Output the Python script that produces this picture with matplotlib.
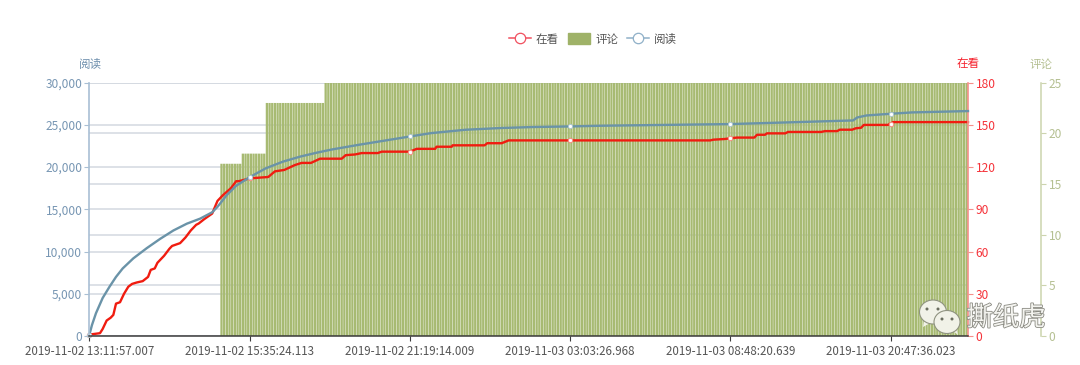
import numpy as np
import matplotlib
matplotlib.use("Agg")
import matplotlib.pyplot as plt
import matplotlib.patheffects as pe
from matplotlib.lines import Line2D
from matplotlib.patches import Patch, Ellipse, Polygon
from matplotlib.ticker import FuncFormatter

plt.rcParams['font.family'] = ['Noto Sans CJK SC', 'DejaVu Sans']

# category positions of labelled ticks
tick_idx = [0, 60, 120, 180, 240, 300]
tick_labels = ['2019-11-02 13:11:57.007', '2019-11-02 15:35:24.113', '2019-11-02 21:19:14.009',
               '2019-11-03 03:03:26.968', '2019-11-03 08:48:20.639', '2019-11-03 20:47:36.023']

# 在看
see_idx = [0, 2, 4, 5, 6.5, 8, 9, 10, 11.5, 13, 14.6, 16, 17.7, 20, 22, 23, 24.5, 25.5, 27, 28, 30, 31, 34, 36, 38,
           40, 41, 43, 44.5, 46, 48, 50, 53, 55, 56,
           60, 67, 69.5, 73, 77, 79.5, 83, 86.4, 94.5, 96, 99.5, 102, 108, 109.5, 119.4,
           120, 122.6, 129.5, 130, 135.7, 136, 148, 149, 154.4, 157, 180, 232.5, 233.6, 238,
           240, 242.5, 249, 250, 253, 253.7, 260.6, 261.6, 274, 275.5, 280, 281, 285.6, 287, 289, 290,
           297, 299, 300, 301, 329]
see_val = [1, 1.5, 2, 5, 11, 13, 15, 23, 24, 30, 35, 37, 38, 39, 42, 47, 48, 52, 55, 57, 62, 64, 66, 70, 75,
           79, 80, 83, 85, 87, 96, 100, 105, 110, 110,
           112, 113, 117, 118, 121.5, 123, 123, 126, 126, 128.5, 129, 130, 130, 131, 131,
           131, 133, 133, 134.5, 134.5, 135.5, 135.5, 137, 137, 139, 139, 139, 139.5, 140,
           140.5, 141, 141, 143, 143, 144, 144, 145, 145, 145.6, 145.6, 146.6, 146.6, 147.6, 148, 150,
           150, 150, 151, 152, 152]

# 评论 as runs of equal values (axis clips everything above 25)
comment_levels = [0, 17, 18, 23, 25]
comment_counts = [49, 8, 9, 22, 241]

# 阅读
read_idx = [0, 1, 2.5, 5, 7.5, 10, 12.5, 16.5, 21.5, 26.5, 31.5, 36.5, 41.5, 46, 48, 51.5, 55,
            60, 66, 72.5, 79, 85, 91, 101, 119.5, 120, 128, 141, 154, 166, 180, 191, 240, 266,
            286, 287.5, 291, 300, 308, 329]
read_val = [100, 1300, 2700, 4500, 5800, 7000, 8000, 9200, 10400, 11500, 12500, 13300, 13900, 14650, 15300, 16700, 17800,
            18800, 19850, 20650, 21250, 21700, 22100, 22650, 23600, 23630, 24030, 24430, 24630, 24750, 24820, 24900, 25100, 25340,
            25530, 25880, 26120, 26320, 26480, 26640]

comment_val = np.repeat(comment_levels, comment_counts)

RED = '#f01c10'
BLUE = '#6a93a8'
GREEN = '#a7ba72'

fig = plt.figure(figsize=(10.8, 3.65), dpi=100)
pos = [89.3 / 1080, 1 - 336 / 365, (968 - 89.3) / 1080, (336 - 82.7) / 365]

ax_read = fig.add_axes(pos)
ax_grid = ax_read.twinx()
ax_comment = ax_read.twinx()
ax_see = ax_read.twinx()

ax_grid.set_zorder(0)
ax_comment.set_zorder(1)
ax_read.set_zorder(3)
ax_see.set_zorder(2)
for a in (ax_read, ax_comment, ax_see):
    a.patch.set_visible(False)
ax_grid.set_facecolor('white')

for a in (ax_read, ax_grid, ax_comment, ax_see):
    a.set_xlim(0, 329)
    for s in a.spines.values():
        s.set_visible(False)

# grids: one from the 阅读 axis, one from the 评论 axis
ax_grid.set_ylim(0, 30000)
ax_grid.set_yticks(np.arange(0, 30001, 5000))
ax_grid.tick_params(right=False, labelright=False)
ax_grid.grid(True, axis='y', color='#d3d9e0', lw=1.1)

ax_comment.set_ylim(0, 25)
ax_comment.set_yticks(np.arange(0, 26, 5))
ax_comment.grid(True, axis='y', color='#d3d9e0', lw=1.1)
ax_comment.set_axisbelow(True)
bars = ax_comment.bar(np.arange(len(comment_val)) + 0.5, comment_val, width=0.86, color=GREEN, lw=0)
for b in bars:
    b.set_snap(False)
ax_comment.spines['right'].set_visible(True)
ax_comment.spines['right'].set_position(('outward', 52.5))  # 73 px at dpi 100
ax_comment.spines['right'].set_color('#ccd4ae')
ax_comment.spines['right'].set_linewidth(1.1)
ax_comment.tick_params(axis='y', colors='#ccd4ae', labelcolor='#b5c092', labelsize=8.6, length=3.5, pad=2)

see_marks = [see_idx.index(i) for i in tick_idx]
ax_see.set_ylim(0, 180)
ax_see.set_yticks(np.arange(0, 181, 30))
ax_see.plot(see_idx, see_val, color=RED, lw=1.7, clip_on=False, marker='o', ms=3.2, mfc='white',
            mec='#f58a80', mew=0.7, markevery=see_marks)
ax_see.spines['right'].set_visible(True)
ax_see.spines['right'].set_color('#f58f8a')
ax_see.spines['right'].set_linewidth(1.2)
ax_see.tick_params(axis='y', colors='#f58f8a', labelcolor='#f5333a', labelsize=8.6, length=3.5, pad=2)

read_marks = [read_idx.index(i) for i in tick_idx]
ax_read.set_ylim(0, 30000)
ax_read.set_yticks(np.arange(0, 30001, 5000))
ax_read.yaxis.set_major_formatter(FuncFormatter(lambda v, p: f'{int(v):,}'))
ax_read.plot(read_idx, read_val, color=BLUE, lw=1.7, clip_on=False, marker='o', ms=3.0, mfc='white',
             mec='#a8c4d0', mew=0.6, markevery=read_marks)
ax_read.spines['left'].set_visible(True)
ax_read.spines['left'].set_color('#a9bfd4')
ax_read.spines['left'].set_linewidth(1.2)
ax_read.spines['bottom'].set_visible(True)
ax_read.spines['bottom'].set_color('#3a3a3a')
ax_read.spines['bottom'].set_linewidth(1.1)
ax_read.tick_params(axis='y', colors='#a9bfd4', labelcolor='#7796b3', labelsize=8.6, length=3.5, pad=1.5)
ax_read.set_xticks(tick_idx)
ax_read.set_xticklabels(tick_labels, fontsize=8.3, color='#555555')
ax_read.tick_params(axis='x', color='#3a3a3a', length=3.5, pad=3)

fig.text(90.5 / 1080, 1 - 64 / 365, '阅读', color='#6f90ae', fontsize=8.3, ha='center', va='center')
fig.text(968.5 / 1080, 1 - 64 / 365, '在看', color='#f5232e', fontsize=8.3, ha='center', va='center')
fig.text(1041 / 1080, 1 - 64 / 365, '评论', color='#b5c092', fontsize=8.3, ha='center', va='center')

handles = [
    Line2D([], [], color='#f0505f', lw=1.1, marker='o', ms=7.5, mfc='white', mec='#f0505f', mew=0.9),
    Patch(facecolor='#9fb268', edgecolor='#9fb268'),
    Line2D([], [], color='#8fb0c8', lw=1.1, marker='o', ms=7.5, mfc='white', mec='#8fb0c8', mew=0.9),
]
fig.legend(handles, ['在看', '评论', '阅读'], ncol=3, loc='center', bbox_to_anchor=(593 / 1080, 1 - 39 / 365),
           frameon=False, fontsize=8.3, labelcolor='#555555', handlelength=1.9, handleheight=1.0,
           handletextpad=0.45, columnspacing=0.8, borderpad=0)

# watermark, pixel coordinates
wm = fig.add_axes([0, 0, 1, 1], zorder=10)
wm.set_xlim(0, 1080)
wm.set_ylim(365, 0)
wm.axis('off')
for cx, cy, rx, ry, tail in [(933, 312, 13.5, 12, [(924, 320), (923, 327), (932, 322)]),
                             (947, 322, 13, 11.5, [(952, 330), (958, 335), (956, 328)])]:
    wm.add_patch(Polygon(tail, closed=True, fc='#f1f2e8', ec='none', zorder=3))
    wm.add_patch(Ellipse((cx, cy), 2 * rx, 2 * ry, fc='#f1f2e8', ec='#8f9380', lw=0.8, zorder=3))
for ex, ey in [(927, 309), (938, 309), (942, 319), (952, 319)]:
    wm.add_patch(Ellipse((ex, ey), 3, 3, fc='#6b6e60', ec='none', zorder=4))
wm.text(1006, 318, '撕纸虎', fontsize=19, color='#f4f4f0', ha='center', va='center',
        path_effects=[pe.withStroke(linewidth=1.2, foreground='#8a8a82')], zorder=5)

fig.savefig('out.png', dpi=100)
